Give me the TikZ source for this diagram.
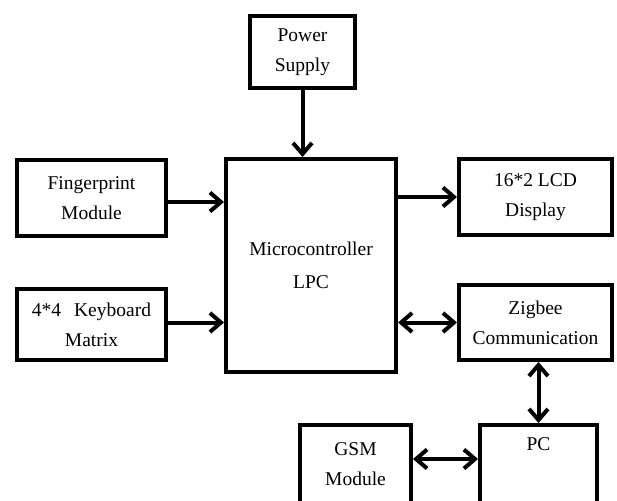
\documentclass[tikz,border=0pt]{standalone}
\usepackage{fontspec}
\setmainfont{Liberation Serif}
\usepackage{tikz}
\usetikzlibrary{positioning,arrows.meta}

\begin{document}
\begin{tikzpicture}[
    block/.style={rectangle, draw, line width=4pt, align=center, inner sep=0pt, font=\fontsize{19.5}{30}\selectfont},
    arrow/.style={-{Straight Barb[length=11pt, width=19pt, line width=4pt]}, line width=4pt},
    dblarrow/.style={{Straight Barb[length=11pt, width=19pt, line width=4pt]}-{Straight Barb[length=11pt, width=19pt, line width=4pt]}, line width=4pt}
]
\useasboundingbox (0,0) rectangle (617pt,-500pt);
\clip (0,0) rectangle (617pt,-500pt);

% Centre block
\node[block, minimum width=170pt, minimum height=213pt, font=\fontsize{19.5}{33}\selectfont] (micro) at (311pt,-265.5pt) {Microcontroller\\LPC};

% Top
\node[block, minimum width=105pt, minimum height=72pt, above=67pt of micro, xshift=-8.5pt] (power) {Power\\Supply};

% Left column
\node[block, minimum width=149pt, minimum height=76pt, below left=1pt and 56pt of micro.north west] (finger) {Fingerprint\\Module};
\node[block, minimum width=149pt, minimum height=71pt, below=49pt of finger] (keypad) {4*4\hspace{13pt}Keyboard\\Matrix};

% Right column
\node[block, minimum width=153pt, minimum height=76pt, below right=0pt and 59pt of micro.north east] (lcd) {16*2 LCD\\Display};
\node[block, minimum width=153pt, minimum height=75pt, below=46pt of lcd] (zigbee) {Zigbee\\Communication};

% Bottom row
\node[block, minimum width=117pt, minimum height=78pt, below=61pt of zigbee, xshift=3pt] (pc) {PC\\\strut};
\node[block, minimum width=111pt, minimum height=78pt, left=65pt of pc] (gsm) {GSM\\Module};

% Arrows
\draw[arrow] (power.south) -- (power.south |- micro.north);
\draw[arrow] ([yshift=-4pt]finger.east) -- ([yshift=-4pt]finger.east -| micro.west);
\draw[arrow] ([yshift=2pt]keypad.east) -- ([yshift=2pt]keypad.east -| micro.west);
\draw[arrow] (lcd.west -| micro.east) -- (lcd.west);
\draw[dblarrow] (zigbee.west -| micro.east) -- (zigbee.west);
\draw[dblarrow] (zigbee.south -| pc.north) -- (pc.north);
\draw[dblarrow] ([yshift=5pt]gsm.east) -- ([yshift=5pt]gsm.east -| pc.west);

\end{tikzpicture}
\end{document}
